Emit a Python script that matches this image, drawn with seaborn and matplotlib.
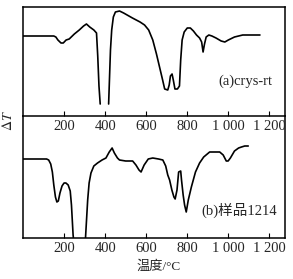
import numpy as np
import pandas as pd
import matplotlib
matplotlib.use('Agg')
import matplotlib.pyplot as plt
import seaborn as sns

# DTA curves (temperature in C, signal in arbitrary units)
# curve (a) crys-rt, two segments (gap where the peak leaves the frame)
a_t1 = [0, 150, 160, 170, 185, 196, 210, 225, 250, 274, 295, 309, 325, 345, 358, 364, 370, 376]
a_y1 = [80, 80, 79, 76, 73, 73, 76, 77, 82, 86, 90, 92, 89, 86, 83, 60, 30, 12]
a_t2 = [417, 421, 426, 432, 440, 450, 470, 490, 533, 570, 592, 612, 632, 650, 665, 680, 690,
        705, 712, 718, 726, 732, 740, 752, 762, 768, 775, 785, 800, 815, 830, 845, 860, 870,
        877, 884, 892, 905, 920, 940, 965, 983, 1000, 1030, 1070, 1100, 1154]
a_y2 = [12, 36, 66, 86, 99, 104, 105, 103, 98, 94, 91, 86, 76, 62, 49, 36, 27,
        26, 31, 40, 42, 36, 27, 27, 30, 56, 76, 84, 88, 88, 85, 81, 78, 74,
        64, 72, 79, 81, 80, 78, 75, 74, 76, 79, 81, 81, 81]

# curve (b) sample 1214
b_t1 = [0, 115, 125, 135, 143, 150, 158, 165, 172, 180, 190, 200, 209, 220, 230, 236, 240, 244, 248]
b_y1 = [79, 79, 78, 74, 66, 53, 41, 36, 37, 45, 52, 55, 55, 53, 47, 33, 18, 3, -5]
b_t2 = [303, 308, 315, 322, 331, 345, 363, 385, 404, 420, 434, 445, 460, 470, 500, 534, 550,
        565, 575, 590, 610, 632, 660, 681, 695, 705, 714, 725, 735, 741, 750, 758, 768, 772,
        780, 787, 795, 805, 820, 840, 860, 880, 909, 940, 958, 975, 990, 999, 1010, 1030, 1050,
        1064, 1080, 1097]
b_y2 = [-5, 13, 38, 55, 65, 72, 75, 78, 80, 86, 90, 85, 80, 78, 77, 77, 73,
        68, 66, 73, 79, 80, 79, 78, 72, 63, 58, 48, 41, 39, 48, 66, 67, 58,
        43, 33, 26, 38, 51, 66, 75, 81, 86, 86, 86, 83, 77, 77, 80, 87, 90,
        91, 92, 92]

xticks = [200, 400, 600, 800, 1000, 1200]
xtick_labels = ['200', '400', '600', '800', '1 000', '1 200']

sns.set_style('white')
plt.rcParams['font.family'] = ['Liberation Serif', 'Noto Sans CJK SC']
plt.rcParams['mathtext.fontset'] = 'stix'

fig = plt.figure(figsize=(2.93, 2.79), dpi=100)
ax2 = fig.add_axes([23/293, 1-238/279, 262/293, 122/279])
ax1 = fig.add_axes([23/293, 1-116/279, 262/293, 109/279])
ax1.set_facecolor('none')
ax2.set_facecolor('none')

for t, y in [(a_t1, a_y1), (a_t2, a_y2)]:
    sns.lineplot(x=t, y=y, ax=ax1, color='black', lw=1.2, sort=False)
for t, y in [(b_t1, b_y1), (b_t2, b_y2)]:
    sns.lineplot(x=t, y=y, ax=ax2, color='black', lw=1.2, sort=False)

ax1.set_ylim(0, 109)
ax2.set_ylim(0, 122)

for ax in (ax1, ax2):
    ax.set_xlim(0, 1276)
    ax.set_xticks(xticks)
    ax.set_xticklabels(xtick_labels)
    ax.set_yticks([])
    ax.tick_params(axis='x', direction='in', length=3.5, width=0.8, pad=3,
                   labelsize=10.5, bottom=True, color='black')
    for s in ax.spines.values():
        s.set_color('black')
        s.set_linewidth(1.1)
    ax.set_ylabel('')
ax2.spines['top'].set_visible(False)

ax1.text(0.95, 0.32, '(a)crys-rt', transform=ax1.transAxes, ha='right', va='center', fontsize=10.5)
ax2.text(0.97, 0.23, '(b)样品1214', transform=ax2.transAxes, ha='right', va='center', fontsize=10.5)

fig.text(8/293, 1-121/279, r'$\Delta T$', rotation=90, ha='center', va='center', fontsize=10)
fig.text(159/293, 1-267/279, '温度/°C', ha='center', va='center', fontsize=9.5)

fig.savefig('out.png', dpi=100)
